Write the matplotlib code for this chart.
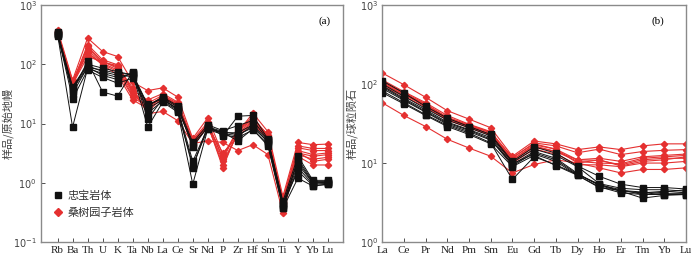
import matplotlib
matplotlib.use("Agg")
import matplotlib.pyplot as plt
from matplotlib.ticker import NullLocator
import numpy as np

# ---------------- data ----------------
spider_elems = ["Rb", "Ba", "Th", "U", "K", "Ta", "Nb", "La", "Ce", "Sr",
                "Nd", "P", "Zr", "Hf", "Sm", "Ti", "Y", "Yb", "Lu"]
ree_elems = ["La", "Ce", "Pr", "Nd", "Pm", "Sm", "Eu", "Gd", "Tb", "Dy",
             "Ho", "Er", "Tm", "Yb", "Lu"]

zhongbao_spider = [
    [320, 8.7, 85, 70, 60, 70, 8.7, 23, 15.6, 0.95, 8.1, 7.1, 5.1, 8.1, 4.2, 0.37, 1.2, 0.88, 0.94],
    [300, 36, 112, 34, 29, 75, 12, 26, 17, 1.8, 9.2, 6.2, 13.3, 13.7, 5.5, 0.45, 1.58, 0.9, 0.95],
    [350, 42, 100, 86, 75, 66, 20, 28, 20, 4.8, 9.5, 7.6, 9.2, 11.3, 5.3, 0.49, 2.8, 1.1, 1.1],
    [330, 26, 80, 60, 48, 58, 18, 25, 18, 2.3, 8.5, 6.8, 6.2, 9.2, 4.8, 0.40, 2.05, 1.0, 1.0],
    [310, 40, 95, 75, 65, 62, 20, 27, 19, 4.0, 8.8, 7.3, 6.5, 8.5, 5.0, 0.42, 2.5, 1.05, 1.05],
    [340, 32, 90, 65, 55, 72, 15, 24, 16.5, 2.0, 8.0, 6.5, 5.8, 7.8, 4.5, 0.38, 1.8, 0.95, 0.98],
    [325, 38, 88, 80, 70, 68, 21, 26, 17.5, 4.5, 8.6, 7.0, 7.0, 9.5, 5.2, 0.44, 2.3, 1.0, 1.02],
]
sangshu_spider = [
    [385, 54, 277, 164, 135, 50, 36, 40, 28, 5.6, 12.5, 3.0, 7.1, 15, 7.3, 0.59, 4.8, 4.4, 4.5],
    [360, 48, 214, 119, 98, 36, 25, 32, 23, 5.1, 9.8, 2.7, 8.1, 12.8, 6.2, 0.50, 3.9, 3.5, 3.5],
    [340, 44, 175, 104, 80, 30, 20, 28, 20, 4.4, 9.0, 2.3, 6.5, 10.6, 5.8, 0.45, 3.2, 2.8, 3.0],
    [350, 50, 154, 98, 66, 25, 18, 28, 21, 5.0, 9.5, 1.8, 7.5, 11.5, 6.0, 0.48, 3.5, 3.0, 3.2],
    [330, 46, 135, 110, 90, 40, 14.6, 16, 11.2, 4.6, 5.1, 4.8, 3.5, 4.4, 3.0, 0.31, 2.8, 2.0, 2.0],
    [345, 52, 190, 112, 85, 33, 22, 30, 22, 5.3, 10.5, 2.5, 7.8, 12, 6.5, 0.52, 4.2, 3.8, 3.8],
    [355, 47, 160, 100, 75, 28, 19, 29, 21, 4.8, 9.3, 2.0, 7.0, 11, 6.0, 0.47, 3.0, 2.5, 2.7],
    [335, 45, 200, 108, 95, 35, 16, 27, 19, 4.2, 8.8, 3.2, 6.0, 10, 5.5, 0.44, 3.3, 2.3, 2.5],
]

zhongbao_ree = [
    [82, 58, 41, 30, 24, 18, 6.2, 12.0, 9.5, 7.2, 5.4, 4.4, 3.6, 3.9, 4.0],
    [110, 77, 52, 37, 29, 23, 10.5, 16, 13.4, 9.2, 6.8, 5.4, 4.9, 4.9, 4.7],
    [95, 66, 47, 33, 26.5, 21, 9.6, 14, 11.5, 7.4, 5.2, 4.4, 4.2, 4.4, 4.2],
    [88, 62, 44, 31, 25, 19.5, 9.8, 13, 10.5, 7.0, 5.0, 4.2, 4.0, 4.0, 4.0],
    [100, 70, 49, 35, 28, 22, 10.2, 15, 12.5, 9.0, 5.5, 4.8, 4.6, 4.6, 4.4],
    [92, 64, 45, 32, 26, 20, 9.2, 13.5, 11, 7.2, 5.3, 4.6, 4.0, 4.3, 4.6],
    [78, 56, 40, 29, 23, 17.5, 9.0, 12.5, 9.3, 7.0, 4.9, 4.5, 4.3, 4.1, 4.1],
]
sangshu_ree = [
    [138, 98, 68, 46, 36, 28, 12.2, 19, 17.5, 14.8, 16, 14.8, 16.5, 17.5, 17.5],
    [113, 80, 58, 40, 31, 25, 11.5, 18, 16.5, 13.5, 15, 12.8, 14, 14.5, 14.8],
    [58, 40, 29, 20, 15.5, 12.2, 7.5, 9.6, 11, 10, 11, 9.2, 10.5, 11, 12],
    [105, 76, 55, 37, 30, 24, 11, 17, 15, 11, 11.5, 10.5, 12, 12.5, 13],
    [100, 73, 53, 36, 29, 23, 10.5, 16, 14, 11, 10.8, 9.5, 11, 11.5, 11.5],
    [108, 78, 56, 38, 30.5, 24.5, 11.8, 17.5, 15, 10, 8.7, 7.5, 8.3, 8.3, 8.7],
    [95, 70, 51, 35, 28, 22.5, 10, 15, 13, 9.5, 9.5, 9, 10, 10, 10.5],
    [102, 74, 54, 37, 29.5, 23, 11, 16.5, 14, 10.5, 10, 9.8, 11.5, 12, 12.5],
]

label_zb = "忠宝岩体"
label_ss = "桑树园子岩体"
ylabel_a = "样品/原始地幔"
ylabel_b = "样品/球粒陨石"

# ---------------- style ----------------
RED = "#e53030"
BLACK = "#111111"
SPINE = "#8a8a8a"
serif = ["Liberation Serif", "DejaVu Serif"]
cjk = ["Noto Sans CJK SC", "DejaVu Sans"]
plt.rcParams["mathtext.fontset"] = "custom"
plt.rcParams["mathtext.rm"] = "Liberation Serif"

fig = plt.figure(figsize=(7.0, 2.77), dpi=100)
axa = fig.add_axes([0.0586, 0.126, 0.4314, 0.856])
axb = fig.add_axes([0.546, 0.126, 0.434, 0.856])


def draw(ax, elems, black, red):
    x = np.arange(len(elems))
    for row in red:
        ax.plot(x, row, color=RED, lw=0.8, marker="D", ms=3.2, mec=RED, mfc=RED, zorder=2)
    for row in black:
        ax.plot(x, row, color=BLACK, lw=0.7, marker="s", ms=4.8, mec=BLACK, mfc=BLACK, zorder=3)
    ax.set_yscale("log")
    ax.set_xticks(x)
    ax.set_xticklabels(elems, fontfamily=serif, fontsize=8)
    ax.tick_params(axis="both", direction="in", length=3, width=0.6, colors="#333333", pad=3)
    ax.tick_params(axis="y", labelsize=7, pad=3)
    ax.tick_params(axis="x", labelsize=8)
    ax.yaxis.set_minor_locator(NullLocator())
    for s in ax.spines.values():
        s.set_color(SPINE)
        s.set_linewidth(1.0)


def ylab(v):
    return r"$\mathregular{10^{%d}}$" % v


draw(axa, spider_elems, zhongbao_spider, sangshu_spider)
axa.set_xlim(-1.1, 19.0)
axa.set_ylim(0.1, 1000)
axa.set_yticks([0.1, 1, 10, 100, 1000])
axa.set_yticklabels([ylab(v) for v in (-1, 0, 1, 2, 3)], color="#444444")
axa.set_ylabel(ylabel_a, fontfamily=cjk, fontsize=8, color="#444444")
axa.yaxis.set_label_coords(-0.089, 0.5)
axa.text(0.96, 0.93, "(a)", transform=axa.transAxes, ha="right", va="center",
         fontfamily=serif, fontsize=8)

h1, = axa.plot([], [], ls="none", marker="s", ms=5, color=BLACK)
h2, = axa.plot([], [], ls="none", marker="D", ms=4.5, color=RED)
leg = axa.legend([h1, h2], [label_zb, label_ss], loc="lower left",
                 bbox_to_anchor=(0.01, 0.06), frameon=False, handlelength=0.8,
                 handletextpad=0.4, labelspacing=0.6,
                 prop={"family": cjk, "size": 8})
for t in leg.get_texts():
    t.set_color("#333333")

draw(axb, ree_elems, zhongbao_ree, sangshu_ree)
axb.set_xlim(0, 14)
axb.set_ylim(1, 1000)
axb.set_yticks([1, 10, 100, 1000])
axb.set_yticklabels([ylab(v) for v in (0, 1, 2, 3)], color="#444444")
axb.set_ylabel(ylabel_b, fontfamily=cjk, fontsize=8, color="#444444")
axb.yaxis.set_label_coords(-0.082, 0.5)
axb.text(0.93, 0.93, "(b)", transform=axb.transAxes, ha="right", va="center",
         fontfamily=serif, fontsize=8)
for a in (axa, axb):
    for lab in a.get_xticklabels():
        lab.set_color("#222222")

fig.savefig("out.png", dpi=100)
